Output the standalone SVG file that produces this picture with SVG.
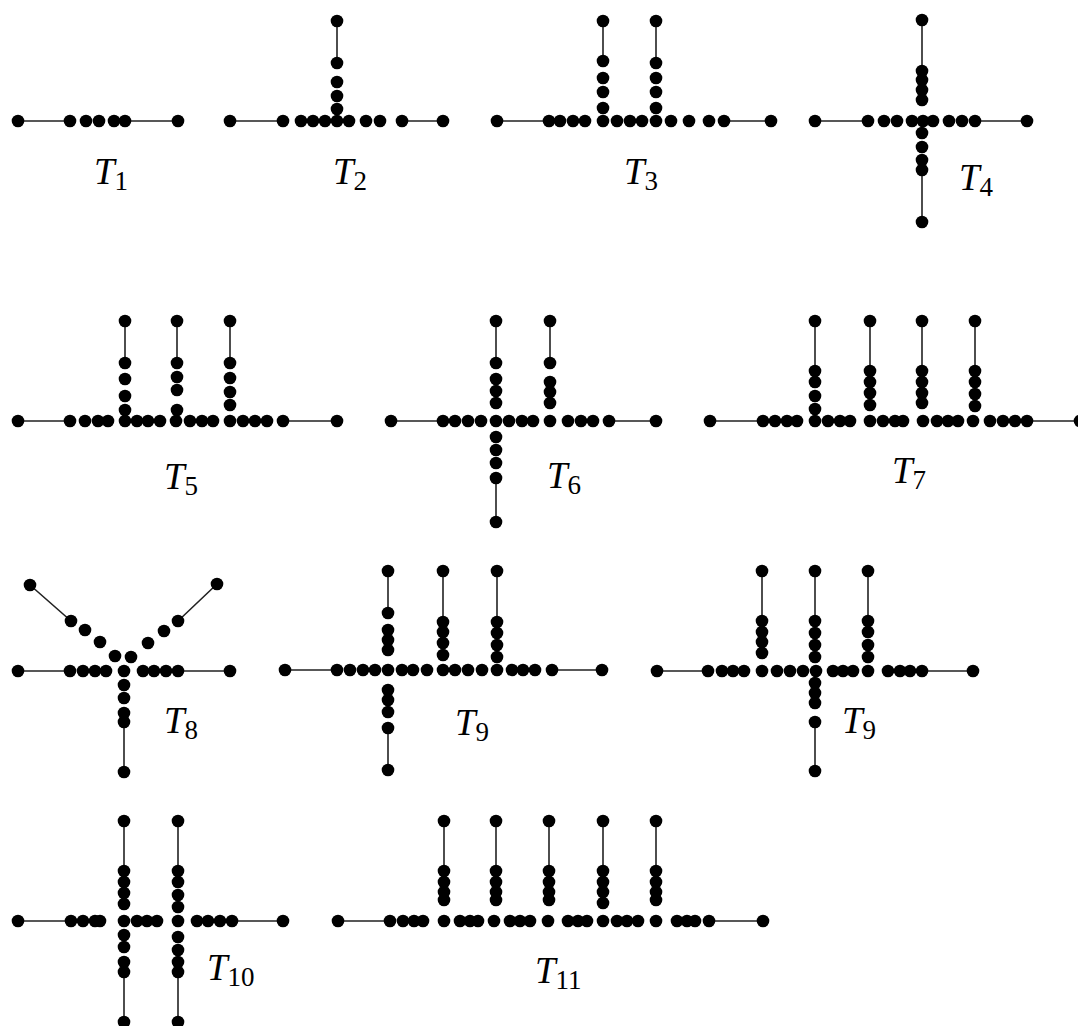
<svg xmlns="http://www.w3.org/2000/svg" width="1078" height="1026" viewBox="0 0 1078 1026">
<style>
.e{stroke:#222;stroke-width:1.6;fill:none}
circle{fill:#000}
.lb{font-family:"Liberation Serif",serif;font-style:italic;font-size:37px;fill:#000}
.sb{font-style:normal;font-size:27px}
</style>
<rect width="1078" height="1026" fill="#fff"/>
<g id="connectors" class="e">
<path d="M18 121H70M125 121H178"/>
<path d="M230 121H283M402 121H443M337 21V63"/>
<path d="M497 121H549M724 121H771M603 21V61M656 21V63"/>
<path d="M815 121H868M975 121H1027M922 20V71M922 170V222"/>
<path d="M18 421H70M283 421H337M125 321V363M177 321V363M230 321V363"/>
<path d="M391 421H443M609 421H656M496 321V363M496 478V522M550 321V363"/>
<path d="M710 421H763M1027 421H1078M815 321V371M870 321V371M922 321V371M975 321V371"/>
<path d="M18 671H70M178 671H230M30 585L71 621M217 584L178 621M124 722V772"/>
<path d="M285 670H337M552 670H602M388 571V613M388 728V770M443 571V622M497 571V622"/>
<path d="M657 671H708M922 671H973M762 571V621M815 571V621M815 722V771M868 571V621"/>
<path d="M18 921H71M232 921H283M124 821V871M124 972V1022M178 821V871M178 972V1022"/>
<path d="M338 921H390M709 921H763M444 821V871M496 821V871M549 821V871M603 821V871M656 821V871"/>
</g>
<g id="T1">
<circle r="6.3" cx="18" cy="121"/><circle r="6.3" cx="70" cy="121"/><circle r="6.3" cx="86" cy="121"/><circle r="6.3" cx="99" cy="121"/><circle r="6.3" cx="114" cy="121"/><circle r="6.3" cx="125" cy="121"/><circle r="6.3" cx="178" cy="121"/>
<text class="lb" x="94" y="184">T<tspan class="sb" dy="6">1</tspan></text>
</g>
<g id="T2">
<circle r="6.3" cx="230" cy="121"/><circle r="6.3" cx="283" cy="121"/><circle r="6.3" cx="301" cy="121"/><circle r="6.3" cx="313" cy="121"/><circle r="6.3" cx="325" cy="121"/><circle r="6.3" cx="337" cy="121"/><circle r="6.3" cx="349" cy="121"/><circle r="6.3" cx="366" cy="121"/><circle r="6.3" cx="380" cy="121"/><circle r="6.3" cx="402" cy="121"/><circle r="6.3" cx="443" cy="121"/>
<circle r="6.3" cx="337" cy="21"/><circle r="6.3" cx="337" cy="63"/><circle r="6.3" cx="337" cy="82"/><circle r="6.3" cx="337" cy="96"/><circle r="6.3" cx="337" cy="109"/>
<text class="lb" x="333" y="184">T<tspan class="sb" dy="6">2</tspan></text>
</g>
<g id="T3">
<circle r="6.3" cx="497" cy="121"/><circle r="6.3" cx="549" cy="121"/><circle r="6.3" cx="560" cy="121"/><circle r="6.3" cx="573" cy="121"/><circle r="6.3" cx="585" cy="121"/><circle r="6.3" cx="603" cy="121"/><circle r="6.3" cx="617" cy="121"/><circle r="6.3" cx="630" cy="121"/><circle r="6.3" cx="642" cy="121"/><circle r="6.3" cx="656" cy="121"/><circle r="6.3" cx="671" cy="121"/><circle r="6.3" cx="689" cy="121"/><circle r="6.3" cx="709" cy="121"/><circle r="6.3" cx="724" cy="121"/><circle r="6.3" cx="771" cy="121"/>
<circle r="6.3" cx="603" cy="21"/><circle r="6.3" cx="603" cy="61"/><circle r="6.3" cx="603" cy="78"/><circle r="6.3" cx="603" cy="92"/><circle r="6.3" cx="603" cy="108"/>
<circle r="6.3" cx="656" cy="21"/><circle r="6.3" cx="656" cy="63"/><circle r="6.3" cx="656" cy="78"/><circle r="6.3" cx="656" cy="92"/><circle r="6.3" cx="656" cy="108"/>
<text class="lb" x="624" y="184">T<tspan class="sb" dy="6">3</tspan></text>
</g>
<g id="T4">
<circle r="6.3" cx="815" cy="121"/><circle r="6.3" cx="868" cy="121"/><circle r="6.3" cx="884" cy="121"/><circle r="6.3" cx="897" cy="121"/><circle r="6.3" cx="912" cy="121"/><circle r="6.3" cx="923" cy="121"/><circle r="6.3" cx="933" cy="121"/><circle r="6.3" cx="949" cy="121"/><circle r="6.3" cx="962" cy="121"/><circle r="6.3" cx="975" cy="121"/><circle r="6.3" cx="1027" cy="121"/>
<circle r="6.3" cx="922" cy="20"/><circle r="6.3" cx="922" cy="71"/><circle r="6.3" cx="922" cy="80"/><circle r="6.3" cx="922" cy="90"/><circle r="6.3" cx="922" cy="100"/>
<circle r="6.3" cx="922" cy="133"/><circle r="6.3" cx="922" cy="147"/><circle r="6.3" cx="922" cy="160"/><circle r="6.3" cx="922" cy="170"/><circle r="6.3" cx="922" cy="222"/>
<text class="lb" x="959" y="190">T<tspan class="sb" dy="6">4</tspan></text>
</g>
<g id="T5">
<circle r="6.3" cx="18" cy="421"/><circle r="6.3" cx="70" cy="421"/><circle r="6.3" cx="85" cy="421"/><circle r="6.3" cx="98" cy="421"/><circle r="6.3" cx="108" cy="421"/><circle r="6.3" cx="125" cy="421"/><circle r="6.3" cx="137" cy="421"/><circle r="6.3" cx="148" cy="421"/><circle r="6.3" cx="160" cy="421"/><circle r="6.3" cx="176" cy="421"/><circle r="6.3" cx="190" cy="421"/><circle r="6.3" cx="202" cy="421"/><circle r="6.3" cx="213" cy="421"/><circle r="6.3" cx="230" cy="421"/><circle r="6.3" cx="243" cy="421"/><circle r="6.3" cx="255" cy="421"/><circle r="6.3" cx="267" cy="421"/><circle r="6.3" cx="283" cy="421"/><circle r="6.3" cx="337" cy="421"/>
<circle r="6.3" cx="125" cy="321"/><circle r="6.3" cx="125" cy="363"/><circle r="6.3" cx="125" cy="379"/><circle r="6.3" cx="125" cy="396"/><circle r="6.3" cx="125" cy="410"/>
<circle r="6.3" cx="177" cy="321"/><circle r="6.3" cx="177" cy="363"/><circle r="6.3" cx="177" cy="377"/><circle r="6.3" cx="177" cy="390"/><circle r="6.3" cx="177" cy="410"/>
<circle r="6.3" cx="230" cy="321"/><circle r="6.3" cx="230" cy="363"/><circle r="6.3" cx="230" cy="378"/><circle r="6.3" cx="230" cy="392"/><circle r="6.3" cx="230" cy="405"/>
<text class="lb" x="164" y="489">T<tspan class="sb" dy="6">5</tspan></text>
</g>
<g id="T6">
<circle r="6.3" cx="391" cy="421"/><circle r="6.3" cx="443" cy="421"/><circle r="6.3" cx="455" cy="421"/><circle r="6.3" cx="468" cy="421"/><circle r="6.3" cx="481" cy="421"/><circle r="6.3" cx="496" cy="421"/><circle r="6.3" cx="509" cy="421"/><circle r="6.3" cx="522" cy="421"/><circle r="6.3" cx="533" cy="421"/><circle r="6.3" cx="550" cy="421"/><circle r="6.3" cx="568" cy="421"/><circle r="6.3" cx="581" cy="421"/><circle r="6.3" cx="593" cy="421"/><circle r="6.3" cx="609" cy="421"/><circle r="6.3" cx="656" cy="421"/>
<circle r="6.3" cx="496" cy="321"/><circle r="6.3" cx="496" cy="363"/><circle r="6.3" cx="496" cy="379"/><circle r="6.3" cx="496" cy="391"/><circle r="6.3" cx="496" cy="403"/>
<circle r="6.3" cx="496" cy="437"/><circle r="6.3" cx="496" cy="450"/><circle r="6.3" cx="496" cy="463"/><circle r="6.3" cx="496" cy="478"/><circle r="6.3" cx="496" cy="522"/>
<circle r="6.3" cx="550" cy="321"/><circle r="6.3" cx="550" cy="363"/><circle r="6.3" cx="550" cy="382"/><circle r="6.3" cx="550" cy="392"/><circle r="6.3" cx="550" cy="403"/>
<text class="lb" x="547" y="488">T<tspan class="sb" dy="6">6</tspan></text>
</g>
<g id="T7">
<circle r="6.3" cx="710" cy="421"/><circle r="6.3" cx="763" cy="421"/><circle r="6.3" cx="775" cy="421"/><circle r="6.3" cx="787" cy="421"/><circle r="6.3" cx="797" cy="421"/><circle r="6.3" cx="815" cy="421"/><circle r="6.3" cx="828" cy="421"/><circle r="6.3" cx="840" cy="421"/><circle r="6.3" cx="850" cy="421"/><circle r="6.3" cx="870" cy="421"/><circle r="6.3" cx="883" cy="421"/><circle r="6.3" cx="895" cy="421"/><circle r="6.3" cx="903" cy="421"/><circle r="6.3" cx="923" cy="421"/><circle r="6.3" cx="937" cy="421"/><circle r="6.3" cx="948" cy="421"/><circle r="6.3" cx="958" cy="421"/><circle r="6.3" cx="973" cy="421"/><circle r="6.3" cx="990" cy="421"/><circle r="6.3" cx="1003" cy="421"/><circle r="6.3" cx="1015" cy="421"/><circle r="6.3" cx="1027" cy="421"/><circle r="6.3" cx="1080" cy="421"/>
<circle r="6.3" cx="815" cy="321"/><circle r="6.3" cx="815" cy="371"/><circle r="6.3" cx="815" cy="382"/><circle r="6.3" cx="815" cy="396"/><circle r="6.3" cx="815" cy="409"/>
<circle r="6.3" cx="870" cy="321"/><circle r="6.3" cx="870" cy="371"/><circle r="6.3" cx="870" cy="382"/><circle r="6.3" cx="870" cy="393"/><circle r="6.3" cx="870" cy="405"/>
<circle r="6.3" cx="922" cy="321"/><circle r="6.3" cx="922" cy="371"/><circle r="6.3" cx="922" cy="382"/><circle r="6.3" cx="922" cy="393"/><circle r="6.3" cx="922" cy="403"/>
<circle r="6.3" cx="975" cy="321"/><circle r="6.3" cx="975" cy="371"/><circle r="6.3" cx="975" cy="382"/><circle r="6.3" cx="975" cy="394"/><circle r="6.3" cx="975" cy="406"/>
<text class="lb" x="892" y="483">T<tspan class="sb" dy="6">7</tspan></text>
</g>
<g id="T8">
<circle r="6.3" cx="18" cy="671"/><circle r="6.3" cx="70" cy="671"/><circle r="6.3" cx="83" cy="671"/><circle r="6.3" cx="95" cy="671"/><circle r="6.3" cx="106" cy="671"/><circle r="6.3" cx="124" cy="671"/><circle r="6.3" cx="143" cy="671"/><circle r="6.3" cx="154" cy="671"/><circle r="6.3" cx="166" cy="671"/><circle r="6.3" cx="178" cy="671"/><circle r="6.3" cx="230" cy="671"/>
<circle r="6.3" cx="30" cy="585"/><circle r="6.3" cx="71" cy="621"/><circle r="6.3" cx="85" cy="630"/><circle r="6.3" cx="100" cy="642"/><circle r="6.3" cx="115" cy="656"/>
<circle r="6.3" cx="217" cy="584"/><circle r="6.3" cx="178" cy="621"/><circle r="6.3" cx="164" cy="631"/><circle r="6.3" cx="148" cy="643"/><circle r="6.3" cx="131" cy="657"/>
<circle r="6.3" cx="124" cy="685"/><circle r="6.3" cx="124" cy="698"/><circle r="6.3" cx="124" cy="713"/><circle r="6.3" cx="124" cy="722"/><circle r="6.3" cx="124" cy="772"/>
<text class="lb" x="164" y="733">T<tspan class="sb" dy="6">8</tspan></text>
</g>
<g id="T9a">
<circle r="6.3" cx="285" cy="670"/><circle r="6.3" cx="337" cy="670"/><circle r="6.3" cx="350" cy="670"/><circle r="6.3" cx="363" cy="670"/><circle r="6.3" cx="375" cy="670"/><circle r="6.3" cx="388" cy="670"/><circle r="6.3" cx="402" cy="670"/><circle r="6.3" cx="413" cy="670"/><circle r="6.3" cx="427" cy="670"/><circle r="6.3" cx="443" cy="670"/><circle r="6.3" cx="455" cy="670"/><circle r="6.3" cx="468" cy="670"/><circle r="6.3" cx="482" cy="670"/><circle r="6.3" cx="497" cy="670"/><circle r="6.3" cx="512" cy="670"/><circle r="6.3" cx="523" cy="670"/><circle r="6.3" cx="535" cy="670"/><circle r="6.3" cx="552" cy="670"/><circle r="6.3" cx="602" cy="670"/>
<circle r="6.3" cx="388" cy="571"/><circle r="6.3" cx="388" cy="613"/><circle r="6.3" cx="388" cy="630"/><circle r="6.3" cx="388" cy="640"/><circle r="6.3" cx="388" cy="650"/>
<circle r="6.3" cx="388" cy="690"/><circle r="6.3" cx="388" cy="700"/><circle r="6.3" cx="388" cy="712"/><circle r="6.3" cx="388" cy="728"/><circle r="6.3" cx="388" cy="770"/>
<circle r="6.3" cx="443" cy="571"/><circle r="6.3" cx="443" cy="622"/><circle r="6.3" cx="443" cy="632"/><circle r="6.3" cx="443" cy="643"/><circle r="6.3" cx="443" cy="655"/>
<circle r="6.3" cx="497" cy="571"/><circle r="6.3" cx="497" cy="622"/><circle r="6.3" cx="497" cy="633"/><circle r="6.3" cx="497" cy="645"/><circle r="6.3" cx="497" cy="657"/>
<text class="lb" x="455" y="735">T<tspan class="sb" dy="6">9</tspan></text>
</g>
<g id="T9b">
<circle r="6.3" cx="657" cy="671"/><circle r="6.3" cx="708" cy="671"/><circle r="6.3" cx="722" cy="671"/><circle r="6.3" cx="733" cy="671"/><circle r="6.3" cx="744" cy="671"/><circle r="6.3" cx="762" cy="671"/><circle r="6.3" cx="777" cy="671"/><circle r="6.3" cx="790" cy="671"/><circle r="6.3" cx="803" cy="671"/><circle r="6.3" cx="816" cy="671"/><circle r="6.3" cx="833" cy="671"/><circle r="6.3" cx="843" cy="671"/><circle r="6.3" cx="853" cy="671"/><circle r="6.3" cx="868" cy="671"/><circle r="6.3" cx="888" cy="671"/><circle r="6.3" cx="900" cy="671"/><circle r="6.3" cx="910" cy="671"/><circle r="6.3" cx="922" cy="671"/><circle r="6.3" cx="973" cy="671"/>
<circle r="6.3" cx="762" cy="571"/><circle r="6.3" cx="762" cy="621"/><circle r="6.3" cx="762" cy="632"/><circle r="6.3" cx="762" cy="642"/><circle r="6.3" cx="762" cy="653"/>
<circle r="6.3" cx="815" cy="571"/><circle r="6.3" cx="815" cy="621"/><circle r="6.3" cx="815" cy="633"/><circle r="6.3" cx="815" cy="645"/><circle r="6.3" cx="815" cy="657"/>
<circle r="6.3" cx="815" cy="683"/><circle r="6.3" cx="815" cy="693"/><circle r="6.3" cx="815" cy="703"/><circle r="6.3" cx="815" cy="722"/><circle r="6.3" cx="815" cy="771"/>
<circle r="6.3" cx="868" cy="571"/><circle r="6.3" cx="868" cy="621"/><circle r="6.3" cx="868" cy="632"/><circle r="6.3" cx="868" cy="645"/><circle r="6.3" cx="868" cy="657"/>
<text class="lb" x="842" y="733">T<tspan class="sb" dy="6">9</tspan></text>
</g>
<g id="T10">
<circle r="6.3" cx="18" cy="921"/><circle r="6.3" cx="71" cy="921"/><circle r="6.3" cx="83" cy="921"/><circle r="6.3" cx="95" cy="921"/><circle r="6.3" cx="100" cy="921"/><circle r="6.3" cx="124" cy="921"/><circle r="6.3" cx="137" cy="921"/><circle r="6.3" cx="147" cy="921"/><circle r="6.3" cx="157" cy="921"/><circle r="6.3" cx="178" cy="921"/><circle r="6.3" cx="197" cy="921"/><circle r="6.3" cx="208" cy="921"/><circle r="6.3" cx="220" cy="921"/><circle r="6.3" cx="232" cy="921"/><circle r="6.3" cx="283" cy="921"/>
<circle r="6.3" cx="124" cy="821"/><circle r="6.3" cx="124" cy="871"/><circle r="6.3" cx="124" cy="882"/><circle r="6.3" cx="124" cy="893"/><circle r="6.3" cx="124" cy="904"/>
<circle r="6.3" cx="124" cy="935"/><circle r="6.3" cx="124" cy="947"/><circle r="6.3" cx="124" cy="962"/><circle r="6.3" cx="124" cy="972"/><circle r="6.3" cx="124" cy="1022"/>
<circle r="6.3" cx="178" cy="821"/><circle r="6.3" cx="178" cy="871"/><circle r="6.3" cx="178" cy="882"/><circle r="6.3" cx="178" cy="895"/><circle r="6.3" cx="178" cy="907"/>
<circle r="6.3" cx="178" cy="937"/><circle r="6.3" cx="178" cy="950"/><circle r="6.3" cx="178" cy="962"/><circle r="6.3" cx="178" cy="972"/><circle r="6.3" cx="178" cy="1022"/>
<text class="lb" x="207" y="980">T<tspan class="sb" dy="6">10</tspan></text>
</g>
<g id="T11">
<circle r="6.3" cx="338" cy="921"/><circle r="6.3" cx="390" cy="921"/><circle r="6.3" cx="403" cy="921"/><circle r="6.3" cx="414" cy="921"/><circle r="6.3" cx="423" cy="921"/><circle r="6.3" cx="444" cy="921"/><circle r="6.3" cx="460" cy="921"/><circle r="6.3" cx="470" cy="921"/><circle r="6.3" cx="478" cy="921"/><circle r="6.3" cx="494" cy="921"/><circle r="6.3" cx="510" cy="921"/><circle r="6.3" cx="520" cy="921"/><circle r="6.3" cx="530" cy="921"/><circle r="6.3" cx="548" cy="921"/><circle r="6.3" cx="568" cy="921"/><circle r="6.3" cx="578" cy="921"/><circle r="6.3" cx="587" cy="921"/><circle r="6.3" cx="603" cy="921"/><circle r="6.3" cx="617" cy="921"/><circle r="6.3" cx="627" cy="921"/><circle r="6.3" cx="638" cy="921"/><circle r="6.3" cx="656" cy="921"/><circle r="6.3" cx="677" cy="921"/><circle r="6.3" cx="687" cy="921"/><circle r="6.3" cx="695" cy="921"/><circle r="6.3" cx="709" cy="921"/><circle r="6.3" cx="763" cy="921"/>
<circle r="6.3" cx="444" cy="821"/><circle r="6.3" cx="444" cy="871"/><circle r="6.3" cx="444" cy="882"/><circle r="6.3" cx="444" cy="892"/><circle r="6.3" cx="444" cy="900"/>
<circle r="6.3" cx="496" cy="821"/><circle r="6.3" cx="496" cy="871"/><circle r="6.3" cx="496" cy="882"/><circle r="6.3" cx="496" cy="892"/><circle r="6.3" cx="496" cy="900"/>
<circle r="6.3" cx="549" cy="821"/><circle r="6.3" cx="549" cy="871"/><circle r="6.3" cx="549" cy="882"/><circle r="6.3" cx="549" cy="892"/><circle r="6.3" cx="549" cy="900"/>
<circle r="6.3" cx="603" cy="821"/><circle r="6.3" cx="603" cy="871"/><circle r="6.3" cx="603" cy="882"/><circle r="6.3" cx="603" cy="892"/><circle r="6.3" cx="603" cy="903"/>
<circle r="6.3" cx="656" cy="821"/><circle r="6.3" cx="656" cy="871"/><circle r="6.3" cx="656" cy="882"/><circle r="6.3" cx="656" cy="892"/><circle r="6.3" cx="656" cy="900"/>
<text class="lb" x="535" y="983">T<tspan class="sb" dy="6">11</tspan></text>
</g>
</svg>
